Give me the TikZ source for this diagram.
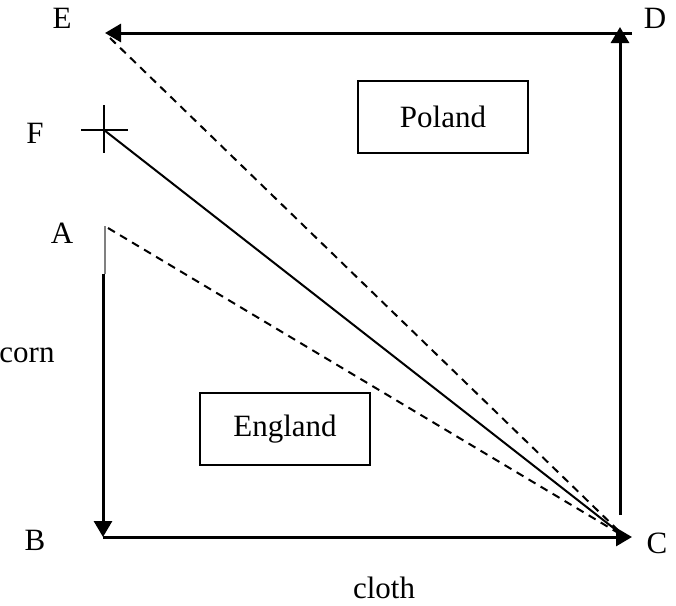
\documentclass[tikz,border=0pt]{standalone}
\usepackage{fontspec}
\setmainfont{Liberation Serif}
\usepackage{tikz}
\usetikzlibrary{arrows.meta,positioning}

\begin{document}
\begin{tikzpicture}[
  x=0.5pt, y=-0.5pt,
  lbl/.style={font=\fontsize{15.5}{18}\selectfont, inner sep=0pt},
  country/.style={draw, line width=1pt, minimum width=85pt, minimum height=36pt,
                  inner sep=0pt, font=\fontsize{15.5}{18}\selectfont},
  axis/.style={-{Triangle[length=8pt,width=9pt]}, line width=1.5pt},
  solidline/.style={line width=1pt},
  dashline/.style={line width=1pt, dash pattern=on 4pt off 3pt}
]
  \useasboundingbox (0,0) rectangle (676,606);
  % corner points
  \coordinate (E) at (105,33);
  \coordinate (Eend) at (110,38);
  \coordinate (Dr) at (632,33);
  \coordinate (Dtip) at (620,27);
  \coordinate (Cbot) at (620,515);
  \coordinate (C) at (625,537);
  \coordinate (Ctip) at (632,537);
  \coordinate (B) at (103,537);
  \coordinate (A) at (105,226);
  \coordinate (Astart) at (108,228);
  \coordinate (Amid) at (105,274);
  \coordinate (Bstart) at (103,274);
  \coordinate (F) at (104,130);
  \coordinate (Fl) at (81,130);
  \coordinate (Fr) at (128,130);
  \coordinate (Ft) at (104,105);
  \coordinate (Fb) at (104,153);
  % labels
  \node[lbl] (labE) at (62,18) {E};
  \node[lbl] (labD) at (655,18) {D};
  \node[lbl] (labF) at (35,133) {F};
  \node[lbl] (labA) at (62,233) {A};
  \node[lbl] (corn) at (27,355) {corn};
  \node[lbl] (labB) at (35,540) {B};
  \node[lbl] (labC) at (657,543) {C};
  \node[lbl] (cloth) at (384,588) {cloth};
  \node[country] (eng) at (285,429) {England};
  \node[country] (pol) at (443,117) {Poland};
  % axes
  \draw[axis] (Dr) -- (E);
  \draw[axis] (Cbot) -- (Dtip);
  \draw[axis] (B) -- (Ctip);
  \draw[axis] (Bstart) -- (B);
  \draw[line width=0.6pt, gray] (A) -- (Amid);
  % trade lines
  \draw[dashline] (Eend) -- (C);
  \draw[dashline] (Astart) -- (C);
  \draw[solidline] (F) -- (C);
  \draw[solidline] (Fl) -- (Fr);
  \draw[solidline] (Ft) -- (Fb);
\end{tikzpicture}
\end{document}
